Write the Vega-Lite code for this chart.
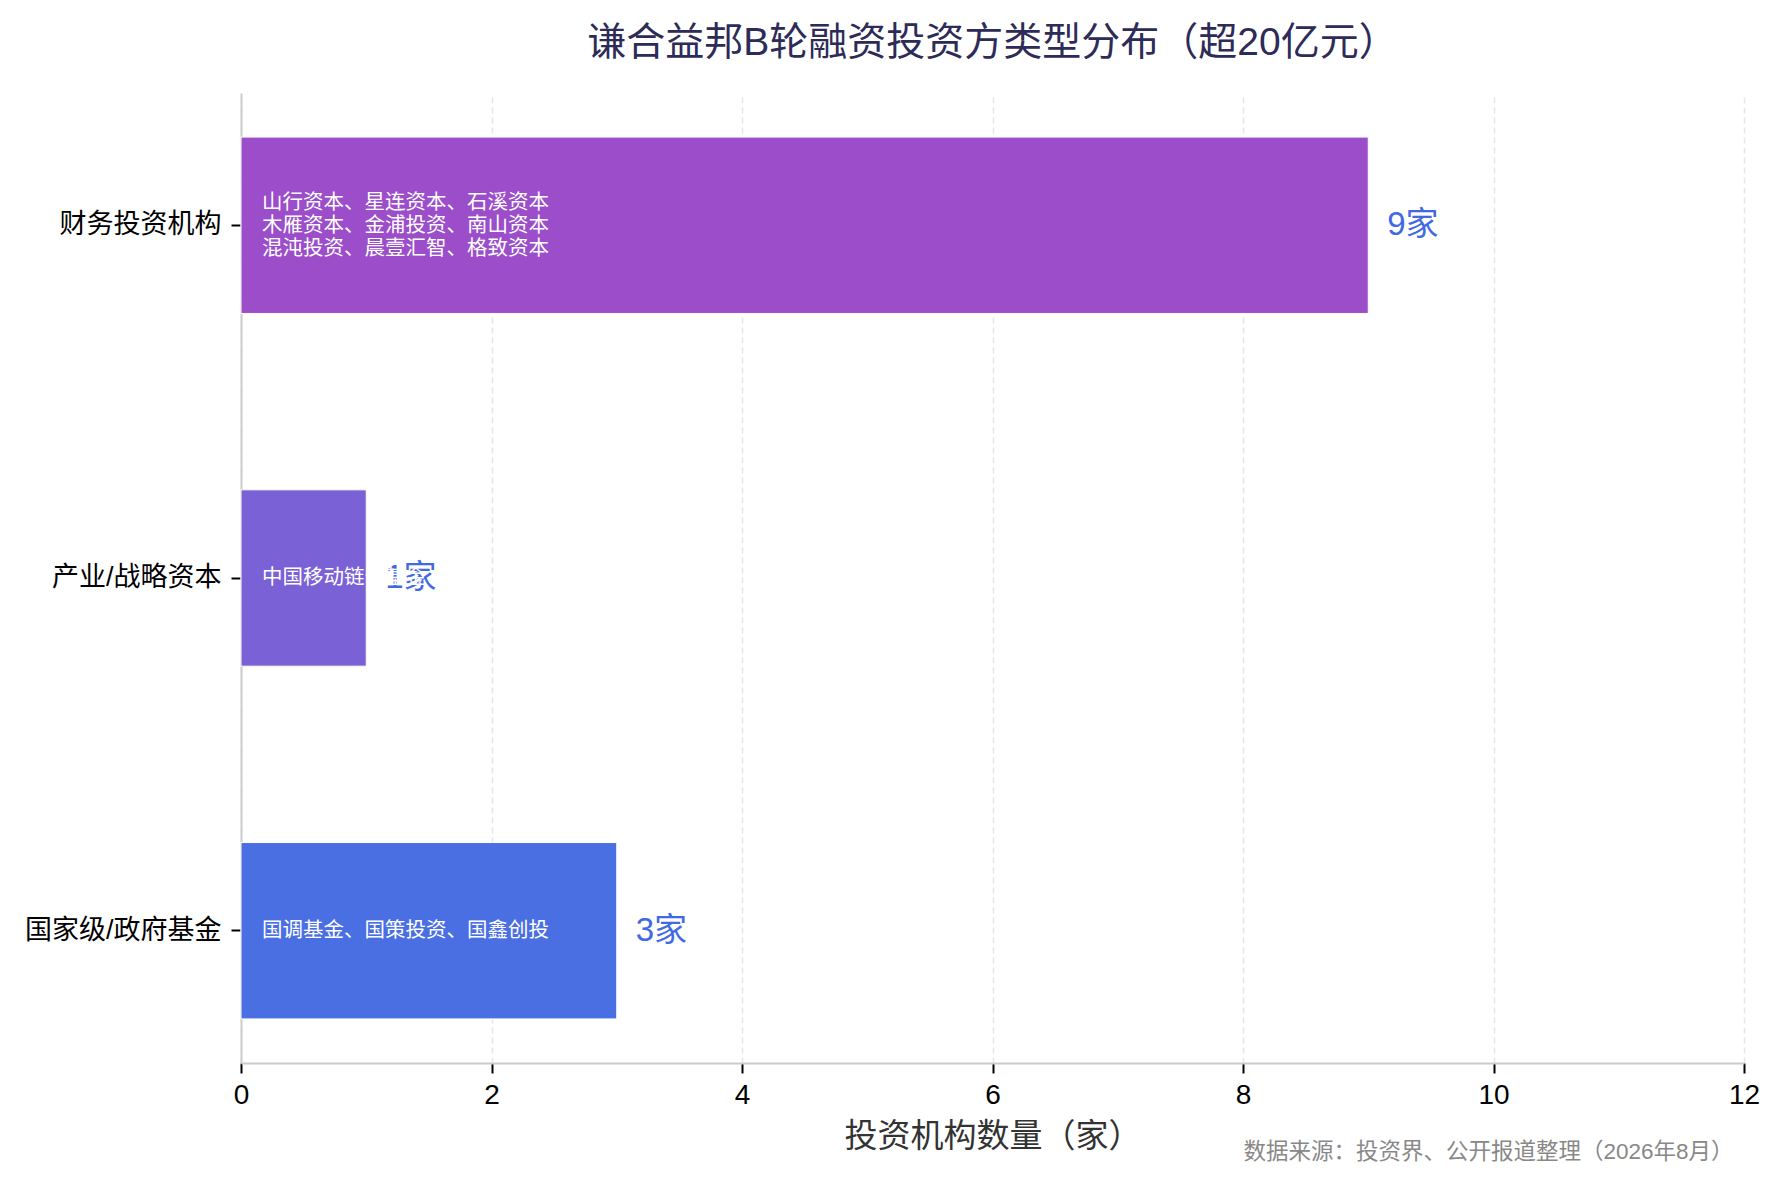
{
  "$schema": "https://vega.github.io/schema/vega-lite/v6.json",
  "width": 1503,
  "height": 970,
  "autosize": {"type": "none"},
  "padding": {"left": 241, "top": 93, "right": 36, "bottom": 122},
  "background": "white",
  "config": {"view": {"stroke": null}, "font": "Liberation Sans, Noto Sans CJK SC, sans-serif"},
  "title": {
    "text": "谦合益邦B轮融资投资方类型分布（超20亿元）",
    "fontSize": 39,
    "fontWeight": "normal",
    "color": "#2d2b57",
    "anchor": "middle",
    "frame": "group",
    "baseline": "middle",
    "offset": 11
  },
  "data": {
    "values": [
      {"category": "财务投资机构", "count": 9, "label": "9家", "names": "山行资本、星连资本、石溪资本\n木雁资本、金浦投资、南山资本\n混沌投资、晨壹汇智、格致资本"},
      {"category": "产业/战略资本", "count": 1, "label": "1家", "names": "中国移动链长基金"},
      {"category": "国家级/政府基金", "count": 3, "label": "3家", "names": "国调基金、国策投资、国鑫创投"}
    ]
  },
  "encoding": {
    "y": {
      "field": "category",
      "type": "nominal",
      "sort": ["财务投资机构", "产业/战略资本", "国家级/政府基金"],
      "scale": {"paddingInner": 0.5, "paddingOuter": 0.125},
      "axis": {
        "title": null,
        "domainColor": "#cccccc",
        "domainWidth": 2,
        "tickColor": "black",
        "tickWidth": 2,
        "tickSize": 10,
        "labelFontSize": 27,
        "labelColor": "black",
        "labelPadding": 10,
        "labelLimit": 500,
        "grid": false
      }
    }
  },
  "layer": [
    {
      "mark": {"type": "bar", "stroke": "white", "strokeWidth": 1},
      "encoding": {
        "x": {
          "field": "count",
          "type": "quantitative",
          "scale": {"domain": [0, 12], "nice": false},
          "title": "投资机构数量（家）",
          "axis": {
            "values": [0, 2, 4, 6, 8, 10, 12],
            "grid": true,
            "gridDash": [6, 4],
            "gridColor": "#e6e6e6",
            "gridWidth": 1.5,
            "domainColor": "#cccccc",
            "domainWidth": 2,
            "tickColor": "black",
            "tickWidth": 2,
            "tickSize": 10,
            "labelFontSize": 28,
            "labelColor": "black",
            "labelPadding": 8,
            "labelFlush": false,
            "titleFontSize": 33,
            "titleColor": "#333333",
            "titleFontWeight": "normal",
            "titlePadding": 11
          }
        },
        "color": {
          "field": "category",
          "type": "nominal",
          "scale": {"domain": ["财务投资机构", "产业/战略资本", "国家级/政府基金"], "range": ["#9b4dca", "#7b61d6", "#4a6fe3"]},
          "legend": null
        }
      }
    },
    {
      "mark": {"type": "text", "align": "left", "baseline": "middle", "dx": 19, "fontSize": 33, "color": "#4169e1"},
      "encoding": {
        "x": {"field": "count", "type": "quantitative", "scale": {"domain": [0, 12], "nice": false}, "axis": null},
        "text": {"field": "label", "type": "nominal"}
      }
    },
    {
      "transform": [{"filter": "indexof(datum.names, '\\n') < 0"}],
      "mark": {"type": "text", "align": "left", "baseline": "middle", "dx": 21, "fontSize": 20.5, "color": "white"},
      "encoding": {
        "x": {
          "datum": 0,
          "type": "quantitative",
          "scale": {"domain": [0, 12], "nice": false},
          "axis": {
            "orient": "bottom",
            "domain": false,
            "ticks": false,
            "labels": false,
            "grid": false,
            "title": "数据来源：投资界、公开报道整理（2026年8月）",
            "titleX": 1492,
            "titleY": 88,
            "titleAlign": "right",
            "titleAnchor": null,
            "titleBaseline": "middle",
            "titleFontSize": 22.5,
            "titleColor": "#888888",
            "titleFontWeight": "normal"
          }
        },
        "text": {"field": "names", "type": "nominal"}
      }
    },
    {
      "transform": [{"filter": "indexof(datum.names, '\\n') >= 0"}],
      "mark": {"type": "text", "align": "left", "baseline": "middle", "dx": 21, "dy": -22, "fontSize": 20.5, "color": "white", "lineBreak": "\n", "lineHeight": 23},
      "encoding": {
        "x": {"datum": 0, "type": "quantitative", "scale": {"domain": [0, 12], "nice": false}, "axis": null},
        "text": {"field": "names", "type": "nominal"}
      }
    }
  ],
  "resolve": {"scale": {"x": "independent"}, "axis": {"x": "independent"}}
}
